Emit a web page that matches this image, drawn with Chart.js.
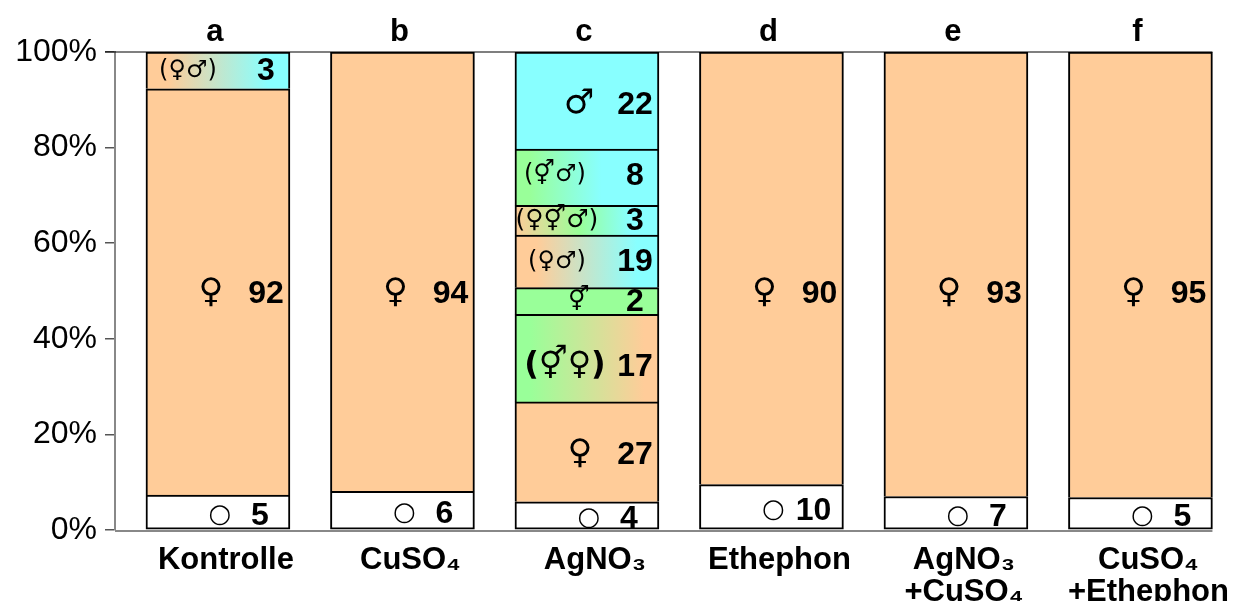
<!DOCTYPE html>
<html>
<head>
<meta charset="utf-8">
<script src="https://cdn.jsdelivr.net/npm/chart.js@4.4.1/dist/chart.umd.min.js"></script>
<style>
  html, body { margin: 0; padding: 0; background: #fff; }
  canvas { display: block; }
</style>
</head>
<body>
<canvas id="chart" width="1248" height="601"></canvas>
<script>
// treatments along the x axis, letters above the bars
const categories = ['Kontrolle', 'CuSO₄', 'AgNO₃', 'Ethephon', ['AgNO₃', '+CuSO₄'], ['CuSO₄', '+Ethephon']];
const letters = ['a', 'b', 'c', 'd', 'e', 'f'];
const yTicks = [0, 20, 40, 60, 80, 100];

// segment heights in % as drawn, bottom to top (null = no such segment)
const noFlower    = [7.3, 8.1, 5.9, 9.5, 7.0, 6.8];
const female      = [85.0, 91.9, 20.9, 90.5, 93.0, 93.2];
const hermFemale  = [null, null, 18.3, null, null, null];
const herm        = [null, null, 5.6, null, null, null];
const femaleMale  = [7.7, null, 11.0, null, null, null];
const femHermMale = [null, null, 6.2, null, null, null];
const hermMale    = [null, null, 11.8, null, null, null];
const male        = [null, null, 20.3, null, null, null];

// numbers printed in the segments
const noFlowerN    = [5, 6, 4, 10, 7, 5];
const femaleN      = [92, 94, 27, 90, 93, 95];
const hermFemaleN  = [null, null, 17, null, null, null];
const hermN        = [null, null, 2, null, null, null];
const femaleMaleN  = [3, null, 19, null, null, null];
const femHermMaleN = [null, null, 3, null, null, null];
const hermMaleN    = [null, null, 8, null, null, null];
const maleN        = [null, null, 22, null, null, null];

const PEACH = '#FFCC99', CYAN = '#88FFFF', GREEN = '#99FF99';
const BAR_W = 144;
const FONT = '"Liberation Sans", Arial, sans-serif';

function gradFill(stops) {
    return function(c) {
        const chart = c.chart;
        const xs = chart.scales.x;
        if (!chart.chartArea || !xs || !c.raw) return stops[0][1];
        const cx = xs.getPixelForValue(c.raw.x);
        const g = chart.ctx.createLinearGradient(cx - BAR_W / 2, 0, cx + BAR_W / 2, 0);
        stops.forEach(s => g.addColorStop(s[0], s[1]));
        return g;
    };
}

// symbol, its font and offsets from the segment centre
const series = [
    { values: noFlower,    counts: noFlowerN,    sym: '○',     font: '26px "DejaVu Sans"',      dx: 2,   dy: 3, bg: '#ffffff' },
    { values: female,      counts: femaleN,      sym: '♀',     font: '34px "DejaVu Sans"',      dx: -7,  dy: 2, bg: PEACH },
    { values: hermFemale,  counts: hermFemaleN,  sym: '(⚥♀)',  font: 'bold 32px "DejaVu Sans"', dx: -22, dy: 8, bg: gradFill([[0.1, GREEN], [0.9, PEACH]]) },
    { values: herm,        counts: hermN,        sym: '⚥',     font: '24px "DejaVu Sans"',      dx: -8,  dy: 0, bg: GREEN },
    { values: femaleMale,  counts: femaleMaleN,  sym: '(♀♂)',  font: '24px "DejaVu Sans"',      dx: -30, dy: 0, bg: gradFill([[0.15, PEACH], [0.85, CYAN]]) },
    { values: femHermMale, counts: femHermMaleN, sym: '(♀⚥♂)', font: '25px "DejaVu Sans"',      dx: -30, dy: 0, bg: gradFill([[0, PEACH], [0.45, GREEN], [0.8, CYAN]]) },
    { values: hermMale,    counts: hermMaleN,    sym: '(⚥♂)',  font: '24px "DejaVu Sans"',      dx: -32, dy: -2, bg: gradFill([[0.1, GREEN], [0.6, CYAN]]) },
    { values: male,        counts: maleN,        sym: '♂',     font: '34px "DejaVu Sans"',      dx: -8,  dy: 4, bg: CYAN }
];

const datasets = series.map((s, k) => ({
    data: s.values.map((v, i) => v == null ? null : { x: i, y: v }).filter(p => p),
    counts: s.counts,
    backgroundColor: s.bg,
    borderColor: '#000',
    borderWidth: 2,
    borderSkipped: k === 0 ? false : 'start',
    barThickness: BAR_W
}));

const decorations = {
    id: 'decorations',
    beforeDatasetsDraw(chart) {
        const ctx = chart.ctx, xs = chart.scales.x, area = chart.chartArea;
        const right = xs.getPixelForValue(categories.length - 1) + BAR_W / 2;
        ctx.save();
        // top line at 100 %
        ctx.strokeStyle = '#000';
        ctx.lineWidth = 1.2;
        ctx.beginPath();
        ctx.moveTo(area.left - 10, area.top);
        ctx.lineTo(right, area.top);
        ctx.stroke();
        // x axis
        ctx.strokeStyle = '#888';
        ctx.lineWidth = 2;
        ctx.beginPath();
        ctx.moveTo(area.left, area.bottom + 1);
        ctx.lineTo(right, area.bottom + 1);
        ctx.stroke();
        ctx.restore();
    },
    afterDatasetsDraw(chart) {
        const ctx = chart.ctx, xs = chart.scales.x, ys = chart.scales.y;
        ctx.save();
        ctx.fillStyle = '#000';
        ctx.textBaseline = 'middle';
        ctx.textAlign = 'center';
        chart.data.datasets.forEach((ds, di) => {
            const s = series[di];
            chart.getDatasetMeta(di).data.forEach((bar, j) => {
                const i = ds.data[j].x;
                // very tall segments carry their label at the middle of the plot
                let yc = (bar.y + bar.base) / 2;
                if (ds.data[j].y > 50) yc = ys.getPixelForValue(50);
                yc += s.dy;
                ctx.font = s.font;
                ctx.fillText(s.sym, bar.x + s.dx, yc);
                ctx.font = 'bold 32px ' + FONT;
                ctx.fillText(String(ds.counts[i]), bar.x + (di === 0 ? 42 : 48), yc + 1);
            });
        });
        // letters above bars
        ctx.font = 'bold 31px ' + FONT;
        ctx.textBaseline = 'alphabetic';
        letters.forEach((l, i) => ctx.fillText(l, xs.getPixelForValue(i) - 3, 41));
        ctx.restore();
    }
};

new Chart(document.getElementById('chart'), {
    type: 'bar',
    data: { datasets: datasets },
    plugins: [decorations],
    options: {
        responsive: false,
        animation: false,
        layout: { padding: { top: 52, right: 0, bottom: 0, left: 0 } },
        plugins: { legend: { display: false }, tooltip: { enabled: false } },
        scales: {
            x: {
                type: 'linear',
                stacked: true,
                offset: false,
                min: -0.558,
                max: 5.583,
                grid: { display: false, drawTicks: false },
                border: { display: false },
                afterFit: (s) => { s.height = 71; },
                ticks: {
                    stepSize: 1,
                    includeBounds: false,
                    autoSkip: false,
                    maxRotation: 0,
                    padding: 14,
                    labelOffset: 8,
                    color: '#000',
                    font: { family: FONT, size: 31, weight: 'bold', lineHeight: 1.05 },
                    callback: (v) => Number.isInteger(v) && categories[v] !== undefined ? categories[v] : null
                }
            },
            y: {
                stacked: true,
                min: 0,
                max: 100,
                afterFit: (s) => { s.width = 115; },
                afterBuildTicks: (s) => { s.ticks = yTicks.map(v => ({ value: v })); },
                grid: { drawOnChartArea: false, drawTicks: true, tickLength: 10, color: '#555', lineWidth: 1.5 },
                border: { display: true, color: '#888', width: 2 },
                ticks: {
                    padding: 8,
                    color: '#000',
                    font: { family: FONT, size: 32 },
                    callback: (v) => v + '%'
                }
            }
        }
    }
});
</script>
</body>
</html>
